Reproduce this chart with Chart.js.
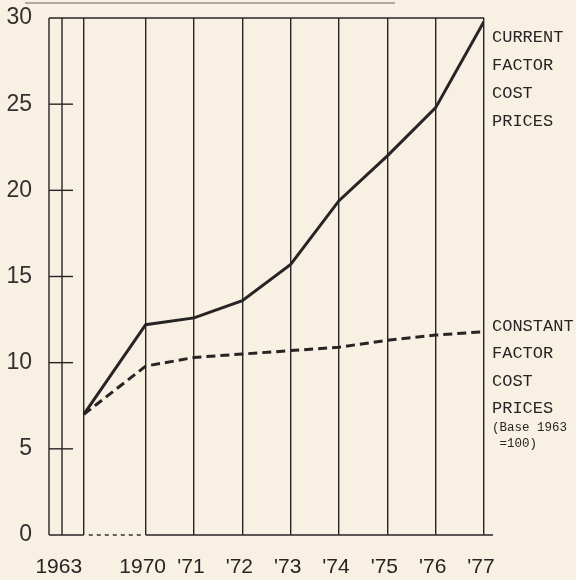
<!DOCTYPE html>
<html>
<head>
<meta charset="utf-8">
<script src="https://cdn.jsdelivr.net/npm/chart.js@4"></script>
<style>
  html, body { margin: 0; padding: 0; background: #f9f0e4; }
  #wrap { width: 576px; height: 580px; }
</style>
</head>
<body>
<div id="wrap"><canvas id="chart" width="576" height="580"></canvas></div>
<script>
// ============================
// DATA
// ============================
const yearLabels = ["1963", "1970", "'71", "'72", "'73", "'74", "'75", "'76", "'77"];
const years = [1963, 1970, 1971, 1972, 1973, 1974, 1975, 1976, 1977];
const currentPrices = [7.0, 12.2, 12.6, 13.6, 15.7, 19.4, 22.0, 24.8, 29.8];
const constantPrices = [7.0, 9.8, 10.3, 10.5, 10.7, 10.9, 11.3, 11.6, 11.8];
const yTicks = [0, 5, 10, 15, 20, 25, 30];
const currentNote = ["CURRENT", "FACTOR", "COST", "PRICES"];
const constantNote = ["CONSTANT", "FACTOR", "COST", "PRICES"];
const baseNote = ["(Base 1963", " =100)"];

// broken axis: 1963 sits just before 1970
const BREAK_AT = 1970;
const BREAK_GAP = 1.28;
const axisPos = years.map(y => (y < BREAK_AT ? BREAK_AT - BREAK_GAP : y));

const INK = "#262424";
const BG = "#f9f0e4";

const toPoints = vals => vals.map((v, i) => ({ x: axisPos[i], y: v }));

// ============================
// DRAWING HELPERS
// ============================
const paperPlugin = {
  id: "paper",
  beforeDraw(chart) {
    const { ctx } = chart;
    ctx.save();
    ctx.fillStyle = BG;
    ctx.fillRect(0, 0, chart.width, chart.height);
    ctx.restore();
  },
  beforeDatasetsDraw(chart) {
    const { ctx, chartArea: a, scales: { x, y } } = chart;
    const y0 = y.getPixelForValue(0);
    const yTop = y.getPixelForValue(30);
    const x63 = x.getPixelForValue(axisPos[0]);
    const x70 = x.getPixelForValue(axisPos[1]);
    ctx.save();
    ctx.strokeStyle = INK;
    ctx.lineWidth = 1.4;

    // left axis + inner rule
    [a.left, a.left + 13].forEach(px => {
      ctx.beginPath();
      ctx.moveTo(px, yTop);
      ctx.lineTo(px, y0);
      ctx.stroke();
    });

    // top border
    ctx.beginPath();
    ctx.moveTo(a.left, yTop);
    ctx.lineTo(a.right, yTop);
    ctx.stroke();

    // tick marks inside the axis
    yTicks.slice(1, -1).forEach(v => {
      const py = y.getPixelForValue(v);
      ctx.beginPath();
      ctx.moveTo(a.left, py);
      ctx.lineTo(a.left + 24, py);
      ctx.stroke();
    });

    // baseline, dashed across the break
    ctx.beginPath();
    ctx.moveTo(a.left, y0);
    ctx.lineTo(x63, y0);
    ctx.moveTo(x70, y0);
    ctx.lineTo(a.right + 9, y0);
    ctx.stroke();
    ctx.setLineDash([4, 4]);
    ctx.beginPath();
    ctx.moveTo(x63 + 5, y0);
    ctx.lineTo(x70 - 3, y0);
    ctx.stroke();
    ctx.setLineDash([]);

    // faint page edge at the top
    ctx.strokeStyle = "#6a6560";
    ctx.lineWidth = 1;
    ctx.beginPath();
    ctx.moveTo(25, 3);
    ctx.lineTo(395, 3);
    ctx.stroke();
    ctx.restore();
  },
  afterDraw(chart) {
    const { ctx, chartArea: a, scales: { x } } = chart;
    ctx.save();
    ctx.fillStyle = INK;

    // year labels
    ctx.font = "21px 'Liberation Sans', sans-serif";
    ctx.textAlign = "center";
    ctx.textBaseline = "middle";
    yearLabels.forEach((t, i) => {
      const shift = i === 0 ? -25 : -3;
      ctx.fillText(t, x.getPixelForValue(axisPos[i]) + shift, 567);
    });

    // right side notes
    ctx.textAlign = "left";
    ctx.font = "17px 'Liberation Mono', monospace";
    const nx = a.right + 8;
    currentNote.forEach((t, i) => ctx.fillText(t, nx, 37 + i * 28));
    constantNote.forEach((t, i) => ctx.fillText(t, nx, 326 + i * 27.5));
    ctx.font = "12.5px 'Liberation Mono', monospace";
    baseNote.forEach((t, i) => ctx.fillText(t, nx, 428 + i * 16));
    ctx.restore();
  }
};

// ============================
// CHART
// ============================
new Chart(document.getElementById("chart").getContext("2d"), {
  type: "line",
  data: {
    datasets: [
      {
        label: "Current factor cost prices",
        data: toPoints(currentPrices),
        borderColor: INK,
        borderWidth: 3,
        pointRadius: 0,
        tension: 0
      },
      {
        label: "Constant factor cost prices",
        data: toPoints(constantPrices),
        borderColor: INK,
        borderWidth: 3,
        borderDash: [9, 5],
        pointRadius: 0,
        tension: 0
      }
    ]
  },
  options: {
    responsive: false,
    animation: false,
    layout: { padding: { top: 18, right: 92, left: 0, bottom: 0 } },
    plugins: {
      legend: { display: false },
      tooltip: { enabled: false }
    },
    scales: {
      x: {
        type: "linear",
        min: 1968,
        max: 1977,
        afterBuildTicks: s => { s.ticks = axisPos.map(v => ({ value: v })); },
        afterFit: s => { s.height = 45; s.paddingLeft = 0; s.paddingRight = 0; },
        ticks: { display: false },
        grid: { color: INK, lineWidth: 1.4, drawTicks: false },
        border: { display: false }
      },
      y: {
        min: 0,
        max: 30,
        afterBuildTicks: s => { s.ticks = yTicks.map(v => ({ value: v })); },
        afterFit: s => { s.width = 49; s.paddingTop = 0; s.paddingBottom = 0; },
        ticks: {
          color: "#333030",
          padding: 17,
          font: { family: "'Liberation Sans', sans-serif", size: 23 }
        },
        grid: { display: false, drawTicks: false },
        border: { display: false }
      }
    }
  },
  plugins: [paperPlugin]
});
</script>
</body>
</html>
